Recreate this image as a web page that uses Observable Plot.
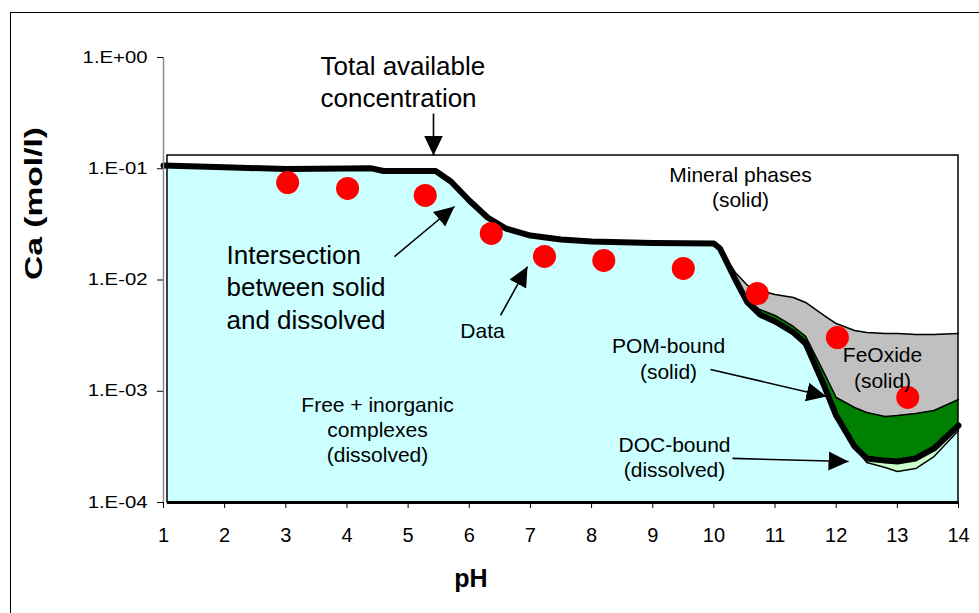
<!DOCTYPE html>
<html><head><meta charset="utf-8">
<script src="https://cdn.jsdelivr.net/npm/d3@7"></script>
<script src="https://cdn.jsdelivr.net/npm/@observablehq/plot@0.6"></script>
<style>
html,body{margin:0;padding:0;background:#fff;overflow:hidden;}
#wrap{position:relative;width:979px;height:613px;}
#frame{position:absolute;left:10px;top:12px;right:0;height:700px;border-left:1px solid #000;border-top:1px solid #000;pointer-events:none;}
</style></head><body>
<div id="wrap"><div id="chart"></div><div id="frame"></div></div>
<script>
// ---- data (pH vs Ca concentration, mol/l) ----
const pH = [1, 2, 3, 4, 4.4, 4.6, 5.45, 5.7, 6.0, 6.3, 6.6, 7.0, 7.5, 8, 9, 10, 10.1, 10.35, 10.55, 10.75, 11, 11.3, 11.5, 11.8, 12, 12.3, 12.5, 12.8, 13, 13.3, 13.6, 14];
// free + inorganic complexes (dissolved)
const freeInorganic = [0.107, 0.103, 0.0995, 0.1005, 0.1008, 0.0954, 0.0954, 0.0768, 0.0518, 0.0365, 0.0290, 0.0251, 0.0231, 0.0222, 0.0215, 0.0213, 0.0192, 0.0101, 0.00628, 0.00490, 0.00424, 0.00337, 0.00269, 0.00113, 0.000605, 0.000319, 0.000229, 0.000206, 0.000190, 0.000202, 0.000259, 0.000444];
// total dissolved = free + DOC-bound (intersection between solid and dissolved)
const dissolvedTotal = [0.107, 0.103, 0.0995, 0.1005, 0.1008, 0.0954, 0.0954, 0.0768, 0.0518, 0.0365, 0.0290, 0.0251, 0.0231, 0.0222, 0.0215, 0.0213, 0.0192, 0.0101, 0.00628, 0.00490, 0.00424, 0.00337, 0.00269, 0.00113, 0.000605, 0.000319, 0.000249, 0.000238, 0.000234, 0.000249, 0.000306, 0.000492];
// dissolved + POM-bound
const pomTop = [0.107, 0.103, 0.0995, 0.1005, 0.1008, 0.0954, 0.0954, 0.0768, 0.0518, 0.0365, 0.0290, 0.0251, 0.0231, 0.0222, 0.0215, 0.0213, 0.0192, 0.0101, 0.00668, 0.00543, 0.00480, 0.00382, 0.00311, 0.00147, 0.000879, 0.000714, 0.000644, 0.000593, 0.000605, 0.000631, 0.000671, 0.000843];
// dissolved + POM-bound + FeOxide
const feOxideTop = [0.107, 0.103, 0.0995, 0.1005, 0.1008, 0.0954, 0.0954, 0.0768, 0.0518, 0.0365, 0.0290, 0.0251, 0.0231, 0.0222, 0.0215, 0.0213, 0.0192, 0.01168, 0.00893, 0.00804, 0.00741, 0.00696, 0.00628, 0.00480, 0.00406, 0.00352, 0.00337, 0.00330, 0.00330, 0.00324, 0.00324, 0.00330];
const totalAvailable = 0.1315;

// measured data
const dataPH = [3.03, 4.01, 5.28, 6.36, 7.23, 8.20, 9.50, 10.71, 12.02, 13.17];
const dataCa = [0.0752, 0.0665, 0.0575, 0.0262, 0.0163, 0.0150, 0.0127, 0.00756, 0.00304, 0.000879];

// axis ticks
const xTicks = [1, 2, 3, 4, 5, 6, 7, 8, 9, 10, 11, 12, 13, 14];
const yTicks = [1e-4, 1e-3, 1e-2, 1e-1, 1];
const yTickLabels = ["1.E-04", "1.E-03", "1.E-02", "1.E-01", "1.E+00"];

// annotations (in data units)
const notes = [
  {text: "Total available\nconcentration", x: 3.567, y: 0.3553, big: true},
  {text: "Intersection\nbetween solid\nand dissolved", x: 2.03, y: 0.00366, big: true},
  {text: "Mineral phases\n(solid)", x: 10.435, y: 0.0449},
  {text: "Data", x: 6.216, y: 0.00304},
  {text: "POM-bound\n(solid)", x: 9.258, y: 0.0013},
  {text: "FeOxide\n(solid)", x: 12.757, y: 0.00108},
  {text: "Free + inorganic\ncomplexes\n(dissolved)", x: 4.499, y: 0.000229},
  {text: "DOC-bound\n(dissolved)", x: 9.356, y: 0.000168}
];
const arrows = [
  {x1: 5.415, y1: 0.3138, x2: 5.415, y2: 0.1315},
  {x1: 4.777, y1: 0.01626, x2: 5.758, y2: 0.04577},
  {x1: 6.511, y1: 0.0048, x2: 6.952, y2: 0.01322},
  {x1: 9.945, y1: 0.001569, x2: 11.842, y2: 0.000897},
  {x1: 10.305, y1: 0.000249, x2: 12.202, y2: 0.000234}
];

// ---- build ----
const rows = pH.map((p, i) => ({pH: p, free: freeInorganic[i], dis: dissolvedTotal[i], pom: pomTop[i], fe: feOxideTop[i]}));
const points = dataPH.map((p, i) => ({pH: p, ca: dataCa[i]}));
const boxLeft = 1.065;
const bottom = 1e-4;
const ax = d => Math.max(d.pH, boxLeft);

function solidHead(color) {
  const ns = "http://www.w3.org/2000/svg";
  const m = document.createElementNS(ns, "marker");
  m.setAttribute("viewBox", "0 -10 20 20");
  m.setAttribute("refX", "20");
  m.setAttribute("refY", "0");
  m.setAttribute("markerWidth", "20");
  m.setAttribute("markerHeight", "20");
  m.setAttribute("markerUnits", "userSpaceOnUse");
  m.setAttribute("orient", "auto");
  const p = document.createElementNS(ns, "path");
  p.setAttribute("d", "M0,-9.5L20,0L0,9.5Z");
  p.setAttribute("fill", color);
  p.setAttribute("stroke", "none");
  m.appendChild(p);
  return m;
}

const fmtY = d => yTickLabels[yTicks.indexOf(d)];

const svg = Plot.plot({
  width: 979,
  height: 613,
  marginLeft: 163,
  marginRight: 21,
  marginTop: 57,
  marginBottom: 111,
  style: {fontFamily: "'Liberation Sans', Arial, sans-serif", fontSize: "16px", background: "white", color: "black"},
  x: {domain: [1, 14]},
  y: {type: "log", domain: [1e-4, 1]},
  marks: [
    Plot.areaY(rows, {x: ax, y1: bottom, y2: "free", fill: "#CCFFFF"}),
    Plot.areaY(rows, {x: ax, y1: "free", y2: "dis", fill: "#CCFFCC"}),
    Plot.areaY(rows, {x: ax, y1: "dis", y2: "pom", fill: "#008000"}),
    Plot.areaY(rows, {x: ax, y1: "pom", y2: "fe", fill: "#C0C0C0"}),
    Plot.line(rows, {x: "pH", y: "fe", stroke: "black", strokeWidth: 1.5}),
    Plot.line(rows, {x: "pH", y: "pom", stroke: "black", strokeWidth: 1.5}),
    Plot.line(rows, {x: "pH", y: "free", stroke: "black", strokeWidth: 1.5}),
    Plot.line(rows, {x: "pH", y: "dis", stroke: "black", strokeWidth: 6, strokeLinecap: "round", strokeLinejoin: "round"}),
    Plot.rect([totalAvailable], {x1: boxLeft, x2: 14, y1: bottom, y2: d => d, fill: "none", stroke: "black", strokeWidth: 1.5}),
    Plot.ruleY([bottom], {x1: boxLeft, x2: 14, stroke: "black", strokeWidth: 3}),
    Plot.ruleX([1], {y1: bottom, y2: 1, stroke: "#8a8a8a", strokeWidth: 1.5}),
    Plot.axisY({ticks: yTicks, tickFormat: fmtY, tickSize: 6, tickPadding: 10, fontSize: 16, label: null}),
    Plot.axisX({ticks: xTicks, tickFormat: d => String(d), tickSize: 6, tickPadding: 19, fontSize: 20, label: null}),
    Plot.dot(points, {x: "pH", y: "ca", r: 11.5, fill: "#FF0000"}),
    Plot.link(arrows, {x1: "x1", y1: "y1", x2: "x2", y2: "y2", stroke: "black", strokeWidth: 1.6, markerEnd: solidHead}),
    Plot.text(notes.filter(d => d.big), {x: "x", y: "y", text: "text", textAnchor: "start", lineAnchor: "bottom", fontSize: 26, lineHeight: 1.25, fill: "black"}),
    Plot.text(notes.filter(d => !d.big), {x: "x", y: "y", text: "text", textAnchor: "middle", lineAnchor: "bottom", fontSize: 21, lineHeight: 1.2, fill: "black"}),
    Plot.text(["Ca (mol/l)"], {frameAnchor: "left", dx: -129, rotate: -90, fontSize: 24, fontWeight: "bold", lineAnchor: "middle", fill: "black"}),
    Plot.text(["pH"], {frameAnchor: "bottom", dx: -90, dy: 76, fontSize: 25, fontWeight: "bold", lineAnchor: "middle", fill: "black"})
  ]
});

// stretch y tick labels and y title along their direction
d3.select(svg).selectAll('g[aria-label="y-axis tick label"] text').each(function () {
  const t = this.getAttribute("transform") || "";
  this.setAttribute("transform", t + " scale(1.27,1)");
});
d3.select(svg).selectAll("text").filter(function () { return this.textContent === "Ca (mol/l)"; }).each(function () {
  const t = this.getAttribute("transform") || "";
  this.setAttribute("transform", t + " scale(1.4,1)");
});

document.getElementById("chart").appendChild(svg);
</script>
</body></html>
